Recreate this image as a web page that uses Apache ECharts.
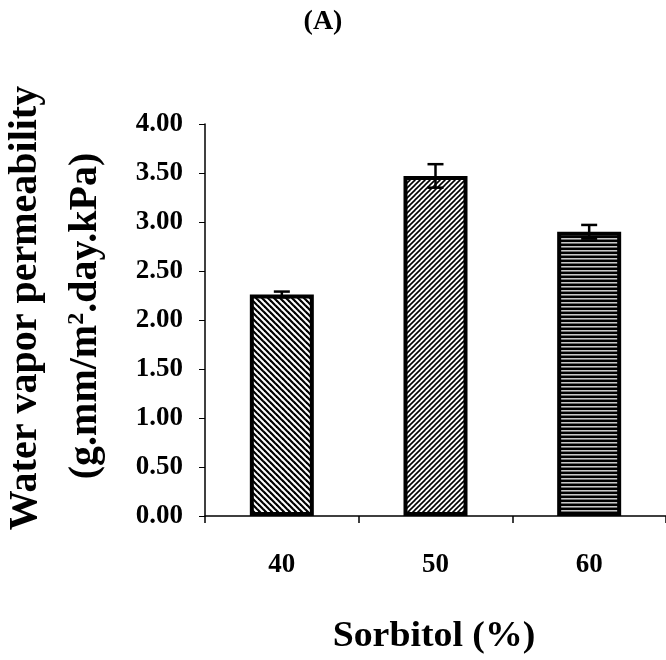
<!DOCTYPE html>
<html>
<head>
<meta charset="utf-8">
<script src="https://cdn.jsdelivr.net/npm/echarts@6/dist/echarts.min.js"></script>
<style>
  html, body { margin: 0; padding: 0; background: #fff; }
  #chart { width: 666px; height: 660px; }
</style>
</head>
<body>
<div id="chart"></div>
<script>
// ---- data ----
const categories = ['40', '50', '60'];
const meanValues = [2.26, 3.47, 2.90];
const errorValues = [0.03, 0.12, 0.07];
const yTicks = { min: 0, max: 4, interval: 0.5 };
const panelLabel = '(A)';
const xTitle = 'Sorbitol (%)';
const yTitleLine1 = 'Water vapor permeability';
const yTitleLine2 = '(g.mm/m{sup|2}.day.kPa)';

const FONT = '"Liberation Serif", "Times New Roman", serif';

// ---- fill patterns ----
function diagPattern(period, lineW, dir) {
  const c = document.createElement('canvas');
  c.width = period; c.height = period;
  const ctx = c.getContext('2d');
  ctx.fillStyle = '#fff';
  ctx.fillRect(0, 0, period, period);
  ctx.strokeStyle = '#000';
  ctx.lineWidth = lineW;
  for (let k = -1; k <= 1; k++) {
    ctx.beginPath();
    if (dir === 'down') {
      ctx.moveTo(k * period - 1, -1);
      ctx.lineTo(k * period + period + 1, period + 1);
    } else {
      ctx.moveTo(k * period - 1, period + 1);
      ctx.lineTo(k * period + period + 1, -1);
    }
    ctx.stroke();
  }
  return c;
}
function horizPattern() {
  const c = document.createElement('canvas');
  c.width = 8; c.height = 4;
  const ctx = c.getContext('2d');
  ctx.fillStyle = '#000';
  ctx.fillRect(0, 0, 8, 4);
  ctx.fillStyle = '#c8c8c8';
  ctx.fillRect(0, 2, 8, 1);
  ctx.fillStyle = '#707070';
  ctx.fillRect(0, 3, 8, 1);
  return c;
}
const patterns = [
  diagPattern(6, 2.2, 'down'),
  diagPattern(5, 1.6, 'up'),
  horizPattern()
];

const barData = meanValues.map((v, i) => ({
  value: v,
  itemStyle: {
    color: { image: patterns[i], repeat: 'repeat' },
    borderColor: '#000',
    borderWidth: 4
  }
}));
const errData = meanValues.map((v, i) => [i, v, errorValues[i]]);

const chart = echarts.init(document.getElementById('chart'), null, { renderer: 'canvas' });
chart.setOption({
  animation: false,
  backgroundColor: '#fff',
  grid: { left: 205, right: -1, top: 124, bottom: 144, containLabel: false },
  xAxis: {
    type: 'category',
    data: categories,
    axisLine: { lineStyle: { color: '#000', width: 1.5 } },
    axisTick: { show: true, length: 7, lineStyle: { color: '#000', width: 1.5 } },
    axisLabel: {
      color: '#000', fontFamily: FONT, fontWeight: 'bold', fontSize: 27, margin: 36
    },
    splitLine: { show: false }
  },
  yAxis: {
    type: 'value',
    min: yTicks.min, max: yTicks.max, interval: yTicks.interval,
    axisLine: { show: true, lineStyle: { color: '#000', width: 1.5 } },
    axisTick: { show: true, length: 6, lineStyle: { color: '#000', width: 1 } },
    axisLabel: {
      color: '#000', fontFamily: FONT, fontWeight: 'bold', fontSize: 27, margin: 22,
      formatter: v => v.toFixed(2)
    },
    splitLine: { show: false }
  },
  series: [
    {
      type: 'bar',
      data: barData,
      barWidth: 64
    },
    {
      type: 'custom',
      data: errData,
      z: 5,
      renderItem: function (params, api) {
        const xi = api.value(0), m = api.value(1), e = api.value(2);
        const top = api.coord([xi, m + e]);
        const bot = api.coord([xi, m - e]);
        const half = 8;
        const st = { stroke: '#000', lineWidth: 2.5 };
        return {
          type: 'group',
          children: [
            { type: 'line', shape: { x1: top[0], y1: top[1], x2: bot[0], y2: bot[1] }, style: st },
            { type: 'line', shape: { x1: top[0] - half, y1: top[1], x2: top[0] + half, y2: top[1] }, style: st },
            { type: 'line', shape: { x1: bot[0] - half, y1: bot[1], x2: bot[0] + half, y2: bot[1] }, style: st }
          ]
        };
      }
    }
  ],
  graphic: [
    {
      type: 'text', x: 323, y: 22,
      style: { text: panelLabel, font: 'bold 28px ' + FONT, fill: '#000', align: 'center', verticalAlign: 'middle' }
    },
    {
      type: 'text', x: 434, y: 637, scaleX: 1.08,
      style: { text: xTitle, font: 'bold 35px ' + FONT, fill: '#000', align: 'center', verticalAlign: 'middle' }
    },
    {
      type: 'text', x: 26, y: 308, rotation: Math.PI / 2,
      style: { text: yTitleLine1, font: 'bold 40px ' + FONT, fill: '#000', align: 'center', verticalAlign: 'middle' }
    },
    {
      type: 'text', x: 86, y: 316, rotation: Math.PI / 2,
      style: {
        text: yTitleLine2, font: 'bold 40px ' + FONT, fill: '#000', align: 'center', verticalAlign: 'middle',
        rich: {
          sup: { font: 'bold 24px ' + FONT, fill: '#000', verticalAlign: 'top', padding: [0, 0, 18, 0] }
        }
      }
    }
  ]
});
</script>
</body>
</html>
